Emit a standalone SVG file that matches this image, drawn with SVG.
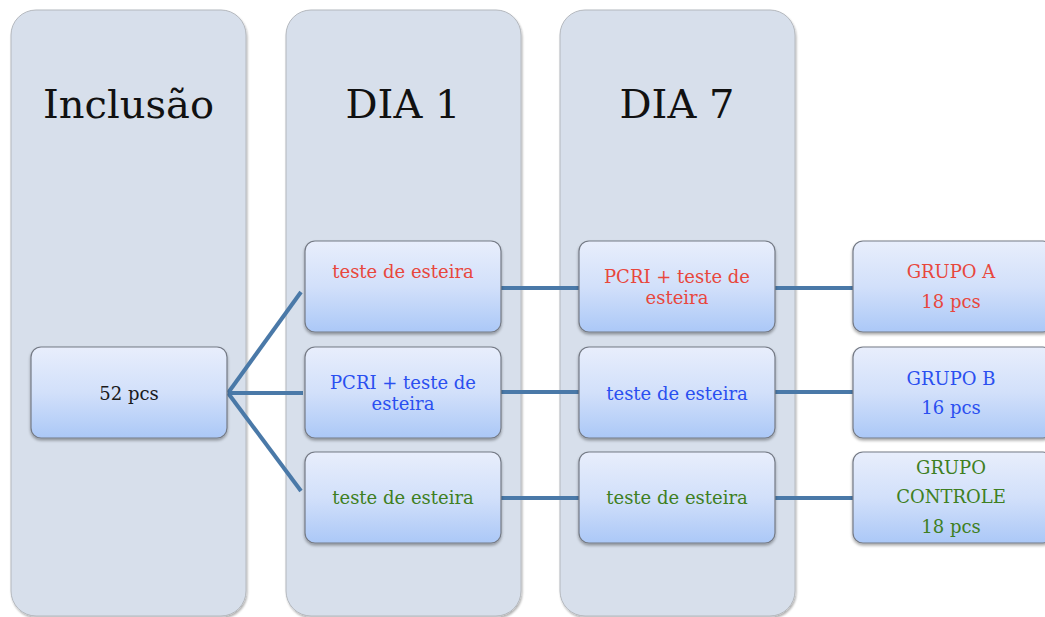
<svg xmlns="http://www.w3.org/2000/svg" width="1045" height="617" viewBox="0 0 1045 617">
  <defs>
    <linearGradient id="boxFill" x1="0" y1="0" x2="0" y2="1">
      <stop offset="0" stop-color="#e8eefc"/>
      <stop offset="0.5" stop-color="#d2e0fa"/>
      <stop offset="1" stop-color="#abc8f7"/>
    </linearGradient>
    <filter id="shadow" x="-10%" y="-10%" width="125%" height="130%">
      <feGaussianBlur in="SourceAlpha" stdDeviation="1.5"/>
      <feOffset dx="0" dy="2" result="b"/>
      <feComponentTransfer><feFuncA type="linear" slope="0.35"/></feComponentTransfer>
      <feMerge><feMergeNode/><feMergeNode in="SourceGraphic"/></feMerge>
    </filter>
    <filter id="laneShadow" x="-5%" y="-5%" width="112%" height="110%">
      <feGaussianBlur in="SourceAlpha" stdDeviation="1.2"/>
      <feOffset dx="1" dy="1.5" result="b"/>
      <feComponentTransfer><feFuncA type="linear" slope="0.3"/></feComponentTransfer>
      <feMerge><feMergeNode/><feMergeNode in="SourceGraphic"/></feMerge>
    </filter>
  </defs>
  <style>
    .lane { fill: #d7dfeb; stroke: #b4b8be; stroke-width: 1; filter: url(#laneShadow); }
    .box { fill: url(#boxFill); stroke: #747a85; stroke-width: 1.2; filter: url(#shadow); }
    .title { font-family: "DejaVu Serif", "Liberation Serif", serif; font-size: 40px; fill: #111; text-anchor: middle; }
    .lbl { font-family: "DejaVu Serif", "Liberation Serif", serif; font-size: 18px; text-anchor: middle; }
    .dark { fill: #1a1a1a; }
    .red { fill: #e8473d; }
    .blue { fill: #2a4ff0; }
    .green { fill: #3e7f22; }
    .conn { stroke: #4a79a8; stroke-width: 4; fill: none; }
  </style>

  <rect width="1045" height="617" fill="#ffffff"/>

  <!-- stage lanes -->
  <g id="lane-inclusao">
    <rect class="lane" x="11" y="10" width="235" height="606" rx="25"/>
    <text class="title" x="128.5" y="118">Inclusão</text>
  </g>
  <g id="lane-dia1">
    <rect class="lane" x="286" y="10" width="235" height="606" rx="25"/>
    <text class="title" x="403" y="118">DIA 1</text>
  </g>
  <g id="lane-dia7">
    <rect class="lane" x="560" y="10" width="235" height="606" rx="25"/>
    <text class="title" x="677" y="118">DIA 7</text>
  </g>

  <!-- connectors -->
  <g id="connectors">
    <path class="conn" d="M228 393 L301 292"/>
    <path class="conn" d="M228 393 L303 393"/>
    <path class="conn" d="M228 393 L301 491"/>
    <path class="conn" d="M501 288 L579 288"/>
    <path class="conn" d="M501 392 L579 392"/>
    <path class="conn" d="M501 498 L579 498"/>
    <path class="conn" d="M775 288 L853 288"/>
    <path class="conn" d="M775 392 L853 392"/>
    <path class="conn" d="M775 498 L853 498"/>
  </g>

  <g id="node-52pcs">
    <rect class="box" x="31" y="347" width="196" height="91" rx="10"/>
    <text class="lbl dark" x="129" y="400">52 pcs</text>
  </g>

  <g id="node-d1-a">
    <rect class="box" x="305" y="241" width="196" height="91" rx="10"/>
    <text class="lbl red" x="403" y="278">teste de esteira</text>
  </g>
  <g id="node-d1-b">
    <rect class="box" x="305" y="347" width="196" height="91" rx="10"/>
    <text class="lbl blue" x="403" y="389">PCRI + teste de</text>
    <text class="lbl blue" x="403" y="410">esteira</text>
  </g>
  <g id="node-d1-c">
    <rect class="box" x="305" y="452" width="196" height="91" rx="10"/>
    <text class="lbl green" x="403" y="504">teste de esteira</text>
  </g>

  <g id="node-d7-a">
    <rect class="box" x="579" y="241" width="196" height="91" rx="10"/>
    <text class="lbl red" x="677" y="283">PCRI + teste de</text>
    <text class="lbl red" x="677" y="304">esteira</text>
  </g>
  <g id="node-d7-b">
    <rect class="box" x="579" y="347" width="196" height="91" rx="10"/>
    <text class="lbl blue" x="677" y="400">teste de esteira</text>
  </g>
  <g id="node-d7-c">
    <rect class="box" x="579" y="452" width="196" height="91" rx="10"/>
    <text class="lbl green" x="677" y="504">teste de esteira</text>
  </g>

  <g id="node-grupo-a">
    <rect class="box" x="853" y="241" width="200" height="91" rx="10"/>
    <text class="lbl red" x="951" y="278">GRUPO A</text>
    <text class="lbl red" x="951" y="308">18 pcs</text>
  </g>
  <g id="node-grupo-b">
    <rect class="box" x="853" y="347" width="200" height="91" rx="10"/>
    <text class="lbl blue" x="951" y="385">GRUPO B</text>
    <text class="lbl blue" x="951" y="414">16 pcs</text>
  </g>
  <g id="node-grupo-controle">
    <rect class="box" x="853" y="452" width="200" height="91" rx="10"/>
    <text class="lbl green" x="951" y="474">GRUPO</text>
    <text class="lbl green" x="951" y="503">CONTROLE</text>
    <text class="lbl green" x="951" y="533">18 pcs</text>
  </g>
</svg>
